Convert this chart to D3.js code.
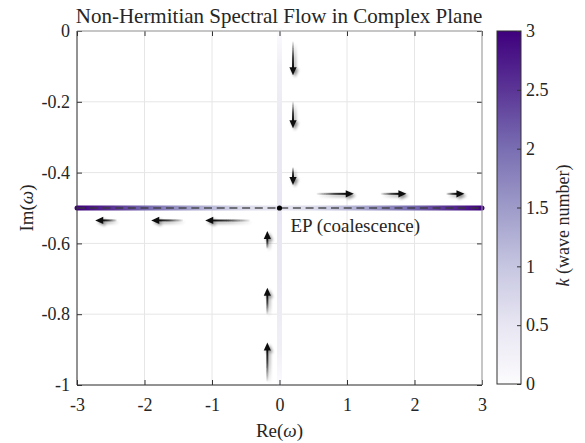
<!DOCTYPE html>
<html>
<head>
<meta charset="utf-8">
<script src="https://cdn.jsdelivr.net/npm/d3@7"></script>
<style>
  body { margin: 0; background: #fff; }
  text { font-family: "Liberation Serif", "Times New Roman", serif; fill: #262626; }
</style>
</head>
<body>
<svg id="viz" width="585" height="443"></svg>
<script>
// axis ticks
const reTicks = [-3, -2, -1, 0, 1, 2, 3];
const imTicks = [0, -0.2, -0.4, -0.6, -0.8, -1];
const kTicks = [0, 0.5, 1, 1.5, 2, 2.5, 3];

const branchRe = [-3, -2.5, -2, -1.5, -1, -0.5, 0, 0.5, 1, 1.5, 2, 2.5, 3];
const branchK = [3.04, 2.55, 2.06, 1.58, 1.12, 0.71, 0.5, 0.71, 1.12, 1.58, 2.06, 2.55, 3.04];
const branchIm = -0.5;

// imaginary branch (Re = 0)
const vertIm = [0, -0.1, -0.2, -0.3, -0.4, -0.5, -0.6, -0.7, -0.8, -0.9, -1];
const vertK = [0.02, 0.3, 0.4, 0.46, 0.49, 0.5, 0.49, 0.46, 0.4, 0.3, 0.02];

// flow arrows: [re0, im0, re1, im1]
const downArrows = [[0.2, -0.03, 0.2, -0.125], [0.2, -0.2, 0.2, -0.275], [0.2, -0.385, 0.2, -0.435]];
const upArrows = [[-0.18, -0.99, -0.18, -0.88], [-0.18, -0.8, -0.18, -0.725], [-0.18, -0.615, -0.18, -0.565]];
const rightArrows = [[0.55, -0.46, 1.1, -0.46], [1.5, -0.46, 1.88, -0.46], [2.47, -0.46, 2.74, -0.46]];
const leftArrows = [[-0.44, -0.535, -1.1, -0.535], [-1.43, -0.535, -1.9, -0.535], [-2.41, -0.535, -2.73, -0.535]];

const svg = d3.select("#viz");
const defs = svg.append("defs");

const x = d3.scaleLinear().domain([-3, 3]).range([77, 482]);
const y = d3.scaleLinear().domain([0, -1]).range([31, 385]);
const color = d3.scaleSequential([0, 3], d3.interpolatePurples);
const kY = d3.scaleLinear().domain([0, 3]).range([384, 31]);

// grid
const grid = svg.append("g").attr("stroke", "#e6e6e6").attr("stroke-width", 1);
grid.selectAll(".gx").data(reTicks).join("line")
    .attr("x1", d => x(d)).attr("x2", d => x(d))
    .attr("y1", y(0)).attr("y2", y(-1));
grid.selectAll(".gy").data(imTicks).join("line")
    .attr("y1", d => y(d)).attr("y2", d => y(d))
    .attr("x1", x(-3)).attr("x2", x(3));

// horizontal branch gradient
const hg = defs.append("linearGradient").attr("id", "hgrad")
    .attr("gradientUnits", "userSpaceOnUse")
    .attr("x1", x(-3)).attr("x2", x(3)).attr("y1", 0).attr("y2", 0);
hg.selectAll("stop").data(branchRe).join("stop")
    .attr("offset", (d, i) => (d + 3) / 6)
    .attr("stop-color", (d, i) => color(branchK[i]));

const vg = defs.append("linearGradient").attr("id", "vgrad")
    .attr("gradientUnits", "userSpaceOnUse")
    .attr("x1", 0).attr("x2", 0).attr("y1", y(0)).attr("y2", y(-1));
vg.selectAll("stop").data(vertIm).join("stop")
    .attr("offset", d => -d)
    .attr("stop-color", (d, i) => color(vertK[i]));

svg.append("line")
    .attr("x1", x(0)).attr("x2", x(0))
    .attr("y1", y(0) - 1).attr("y2", y(-1) + 1)
    .attr("stroke", "url(#vgrad)").attr("stroke-width", 5)
    .attr("stroke-linecap", "round");

svg.append("line")
    .attr("x1", x(-3)).attr("x2", x(3))
    .attr("y1", y(branchIm)).attr("y2", y(branchIm))
    .attr("stroke", "url(#hgrad)").attr("stroke-width", 5)
    .attr("stroke-linecap", "round");

// dashed EP level
svg.append("line")
    .attr("x1", x(-3)).attr("x2", x(3))
    .attr("y1", y(branchIm)).attr("y2", y(branchIm))
    .attr("stroke", "#3a3a3a").attr("stroke-opacity", 0.85)
    .attr("stroke-width", 1.5).attr("stroke-dasharray", "8,4.7");

svg.append("circle")
    .attr("cx", x(0)).attr("cy", y(branchIm)).attr("r", 2.6)
    .attr("fill", "#000");

svg.append("text")
    .attr("x", x(0) + 11).attr("y", y(branchIm) + 24)
    .attr("font-size", 19)
    .text("EP (coalescence)");

// arrows
const shadow = defs.append("filter").attr("id", "shadow")
    .attr("x", "-50%").attr("y", "-50%").attr("width", "200%").attr("height", "200%");
shadow.append("feGaussianBlur").attr("in", "SourceAlpha").attr("stdDeviation", 1.6).attr("result", "b");
shadow.append("feOffset").attr("in", "b").attr("dx", 1.5).attr("dy", 1.5).attr("result", "o");
shadow.append("feComponentTransfer").attr("in", "o").attr("result", "s")
    .append("feFuncA").attr("type", "linear").attr("slope", 0.45);
shadow.append("feGaussianBlur").attr("in", "SourceGraphic").attr("stdDeviation", 0.5).attr("result", "g");
const merge = shadow.append("feMerge");
merge.append("feMergeNode").attr("in", "s");
merge.append("feMergeNode").attr("in", "g");

const allArrows = downArrows.concat(upArrows, rightArrows, leftArrows);
const arrowG = svg.append("g").attr("filter", "url(#shadow)");
allArrows.forEach((a, i) => {
  const x0 = x(a[0]), y0 = y(a[1]), x1 = x(a[2]), y1 = y(a[3]);
  const ang = Math.atan2(y1 - y0, x1 - x0);
  const head = 8, half = 3.6;
  const bx = x1 - head * Math.cos(ang), by = y1 - head * Math.sin(ang);
  const gr = defs.append("linearGradient").attr("id", "ag" + i)
      .attr("gradientUnits", "userSpaceOnUse")
      .attr("x1", x0).attr("y1", y0).attr("x2", bx).attr("y2", by);
  gr.append("stop").attr("offset", 0).attr("stop-color", "#111").attr("stop-opacity", 0.05);
  gr.append("stop").attr("offset", 0.6).attr("stop-color", "#111").attr("stop-opacity", 0.75);
  gr.append("stop").attr("offset", 1).attr("stop-color", "#111").attr("stop-opacity", 1);
  arrowG.append("line")
      .attr("x1", x0).attr("y1", y0).attr("x2", bx + Math.cos(ang)).attr("y2", by + Math.sin(ang))
      .attr("stroke", `url(#ag${i})`).attr("stroke-width", 2);
  const px = -Math.sin(ang), py = Math.cos(ang);
  arrowG.append("path")
      .attr("d", `M${x1},${y1}L${bx + px * half},${by + py * half}L${bx - px * half},${by - py * half}Z`)
      .attr("fill", "#111");
});

// axes (inward ticks on all sides)
function styleAxis(g) {
  g.select(".domain").remove();
  g.selectAll(".tick line").attr("stroke", "#333");
  g.selectAll(".tick text").attr("font-size", 18).attr("font-family", '"Liberation Serif", serif').attr("fill", "#262626");
}
svg.append("g").attr("transform", `translate(0,${y(-1)})`)
    .call(d3.axisBottom(x).tickValues(reTicks).tickSize(-5).tickPadding(13).tickFormat(d => String(d)))
    .call(styleAxis);
svg.append("g").attr("transform", `translate(0,${y(0)})`)
    .call(d3.axisTop(x).tickValues(reTicks).tickSize(-5).tickFormat(""))
    .call(styleAxis);
svg.append("g").attr("transform", `translate(${x(-3)},0)`)
    .call(d3.axisLeft(y).tickValues(imTicks).tickSize(-5).tickPadding(7).tickFormat(d => String(d)))
    .call(styleAxis);
svg.append("g").attr("transform", `translate(${x(3)},0)`)
    .call(d3.axisRight(y).tickValues(imTicks).tickSize(-5).tickFormat(""))
    .call(styleAxis);

// frame
svg.append("path")
    .attr("d", `M${x(-3)},${y(0)}H${x(3)}V${y(-1)}`)
    .attr("fill", "none").attr("stroke", "#999").attr("stroke-width", 1);
svg.append("path")
    .attr("d", `M${x(-3)},${y(0)}V${y(-1)}H${x(3)}`)
    .attr("fill", "none").attr("stroke", "#333").attr("stroke-width", 1);

// title & labels
svg.append("text").attr("x", 279).attr("y", 23)
    .attr("text-anchor", "middle").attr("font-size", 21)
    .text("Non-Hermitian Spectral Flow in Complex Plane");

const xl = svg.append("text").attr("x", x(0)).attr("y", 437)
    .attr("text-anchor", "middle").attr("font-size", 19);
xl.append("tspan").text("Re(");
xl.append("tspan").attr("font-style", "italic").text("ω");
xl.append("tspan").text(")");

const yl = svg.append("text")
    .attr("transform", `translate(33,${y(-0.5)}) rotate(-90)`)
    .attr("text-anchor", "middle").attr("font-size", 19);
yl.append("tspan").text("Im(");
yl.append("tspan").attr("font-style", "italic").text("ω");
yl.append("tspan").text(")");

// colorbar
const cb = defs.append("linearGradient").attr("id", "cbgrad")
    .attr("x1", 0).attr("x2", 0).attr("y1", 1).attr("y2", 0);
cb.selectAll("stop").data(kTicks).join("stop")
    .attr("offset", d => d / 3)
    .attr("stop-color", d => color(d));

svg.append("rect")
    .attr("x", 497).attr("y", kY(3)).attr("width", 24).attr("height", kY(0) - kY(3))
    .attr("fill", "url(#cbgrad)").attr("stroke", "#333").attr("stroke-width", 1);

svg.append("g").attr("transform", "translate(521,0)")
    .call(d3.axisRight(kY).tickValues(kTicks).tickSize(-4).tickPadding(5).tickFormat(d => String(d)))
    .call(styleAxis);

const kl = svg.append("text")
    .attr("transform", `translate(569,${kY(1.5) + 18}) rotate(-90)`)
    .attr("text-anchor", "middle").attr("font-size", 18);
kl.append("tspan").attr("font-style", "italic").text("k");
kl.append("tspan").text(" (wave number)");
</script>
</body>
</html>
